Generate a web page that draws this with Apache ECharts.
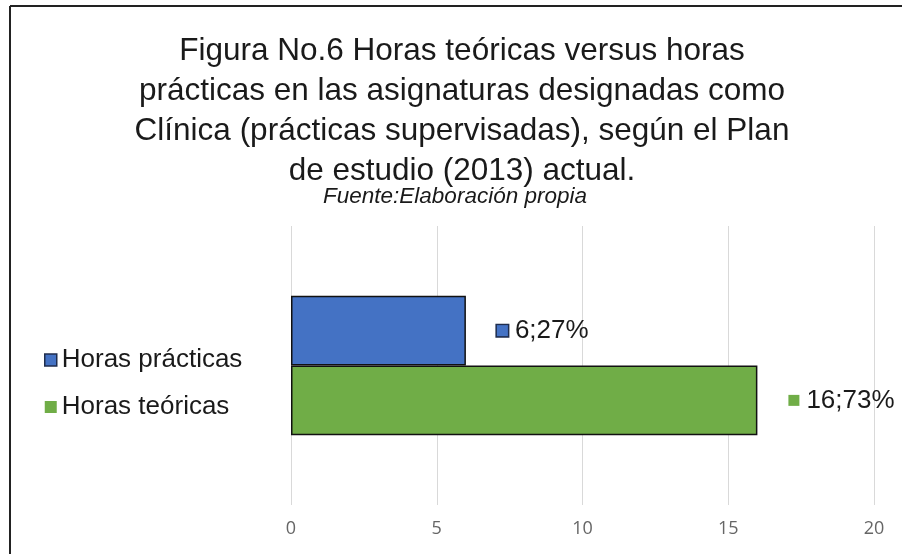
<!DOCTYPE html>
<html>
<head>
<meta charset="utf-8">
<style>
  html, body { margin: 0; padding: 0; background: #fff; }
  #chart { width: 902px; height: 554px; }
</style>
<script src="https://cdn.jsdelivr.net/npm/echarts@6/dist/echarts.min.js"></script>
</head>
<body>
<div id="chart"></div>
<script>
var categories = ['Clínica']
var seriesNames = ['Horas prácticas', 'Horas teóricas']
var horasPracticas = [6]
var horasTeoricas = [16]
var xTicks = [0, 5, 10, 15, 20]

var total = horasPracticas[0] + horasTeoricas[0]
var font = 'Liberation Sans, Arial, sans-serif'

function pct(v) {
  return Math.round(v / total * 100) + '%'
}

function labelFor(color, border) {
  return {
    show: true,
    position: 'right',
    distance: 31,
    formatter: function(p) {
      return '{m|}{v|' + p.value + ';' + pct(p.value) + '}'
    },
    rich: {
      m: { width: 11, height: 11, backgroundColor: color, borderColor: border, borderWidth: border ? 1.5 : 0 },
      v: { fontSize: 26, fontFamily: font, color: '#1a1a1a', padding: [0, 0, 0, 7] }
    }
  }
}

var chart = echarts.init(document.getElementById('chart'))
chart.setOption({
  animation: false,
  backgroundColor: '#fff',
  graphic: [
    { type: 'line', shape: { x1: 10, y1: 6, x2: 902, y2: 6 }, style: { stroke: '#222', lineWidth: 2 } },
    { type: 'line', shape: { x1: 10, y1: 6, x2: 10, y2: 554 }, style: { stroke: '#222', lineWidth: 2 } }
  ],
  title: [
    {
      text: 'Figura No.6 Horas teóricas versus horas\nprácticas en las asignaturas designadas como\nClínica (prácticas supervisadas), según el Plan\nde estudio (2013) actual.',
      left: 462,
      textAlign: 'center',
      top: 31,
      padding: 0,
      textStyle: { fontSize: 31.5, fontWeight: 'normal', fontFamily: font, color: '#1a1a1a', lineHeight: 40 }
    },
    {
      text: 'Fuente:Elaboración propia',
      left: 455,
      textAlign: 'center',
      top: 185,
      padding: 0,
      textStyle: { fontSize: 22.5, fontStyle: 'italic', fontWeight: 'normal', fontFamily: font, color: '#1a1a1a' }
    }
  ],
  legend: {
    orient: 'vertical',
    left: 39,
    top: 342,
    itemWidth: 12,
    itemHeight: 12,
    itemGap: 21,
    icon: 'rect',
    data: [
      { name: seriesNames[0], itemStyle: { borderColor: '#1f2d4d', borderWidth: 1.5 } },
      { name: seriesNames[1], itemStyle: { borderWidth: 0 } }
    ],
    textStyle: { fontSize: 26, fontFamily: font, color: '#1a1a1a' }
  },
  grid: { left: 291, right: 28, top: 226, bottom: 49 },
  xAxis: {
    type: 'value',
    min: xTicks[0],
    max: xTicks[xTicks.length - 1],
    interval: xTicks[1] - xTicks[0],
    axisLine: { show: false },
    axisTick: { show: false },
    axisLabel: { fontSize: 18, fontFamily: 'Open Sans, sans-serif', color: '#666', margin: 15 },
    splitLine: { lineStyle: { color: '#d9d9d9', width: 1 } }
  },
  yAxis: {
    type: 'category',
    data: categories,
    axisLine: { show: false },
    axisTick: { show: false },
    axisLabel: { show: false }
  },
  series: [
    {
      name: seriesNames[0],
      type: 'bar',
      data: horasPracticas,
      barGap: '0%',
      barCategoryGap: '50%',
      itemStyle: { color: '#4472C4', borderColor: '#111', borderWidth: 1.5 },
      label: labelFor('#4472C4', '#1f2d4d')
    },
    {
      name: seriesNames[1],
      type: 'bar',
      data: horasTeoricas,
      barGap: '0%',
      barCategoryGap: '50%',
      itemStyle: { color: '#70AD47', borderColor: '#111', borderWidth: 1.5 },
      label: labelFor('#70AD47', null)
    }
  ]
})
</script>
</body>
</html>
